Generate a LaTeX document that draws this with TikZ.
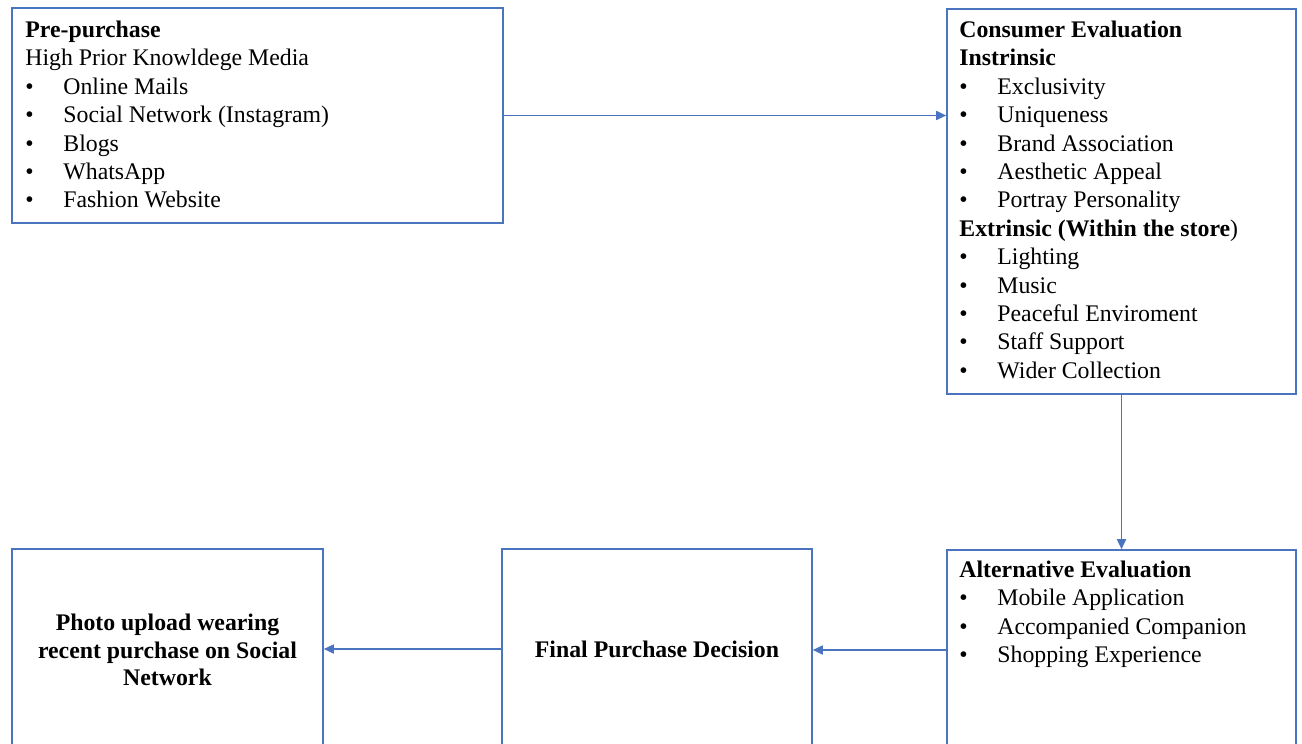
\documentclass[tikz,border=0pt]{standalone}
\usepackage{fontspec}
\setmainfont{Liberation Serif}
\usetikzlibrary{arrows.meta}
\definecolor{boxblue}{HTML}{4A74BF}
% bullet list entry: bullet, then the item text at a fixed indent
\newcommand{\bitem}[1]{\makebox[19pt][l]{\textbullet}#1}
% strut that fixes the height of a block's first line
\newcommand{\firststrut}{\rule{0pt}{10pt}}
\begin{document}
\begin{tikzpicture}[x=0.5pt, y=-0.5pt,
  box/.style={draw=boxblue, line width=0.8pt, fill=none, inner sep=0pt},
  txt/.style={anchor=north west, inner sep=0pt, align=left,
    font=\fontsize{11.9pt}{14.2pt}\selectfont},
  ctxt/.style={inner sep=0pt, align=center,
    font=\fontsize{11.9pt}{13.6pt}\selectfont\bfseries},
  flow/.style={draw=boxblue, line width=0.85pt,
    -{Triangle[length=5pt, width=4.5pt]}}]
\useasboundingbox (0,0) rectangle (1302,744);
\fill[white] (0,0) rectangle (1302,744);
\clip (0,0) rectangle (1302,744);

% stage boxes (the bottom row runs past the lower edge)
\node[box, minimum width=245.5pt, minimum height=107.5pt] (pre)   at (257.5,115.5) {};
\node[box, minimum width=174.5pt, minimum height=192.5pt] (cons)  at (1121.5,201.5) {};
\node[box, minimum width=174.5pt, minimum height=100pt]   (alt)   at (1121.5,650) {};
\node[box, minimum width=155pt,   minimum height=100pt]   (final) at (657,649) {};
\node[box, minimum width=155.5pt, minimum height=100pt]   (photo) at (167.5,649) {};

% box contents
\node[txt] (pretext) at (25,17) {\firststrut\textbf{Pre-purchase}\\
  High Prior Knowldege Media\\
  \bitem{Online Mails}\\
  \bitem{Social Network (Instagram)}\\
  \bitem{Blogs}\\
  \bitem{WhatsApp}\\
  \bitem{Fashion Website}};

\node[txt] (constext) at (959,17) {\firststrut\textbf{Consumer Evaluation}\\
  \textbf{Instrinsic}\\
  \bitem{Exclusivity}\\
  \bitem{Uniqueness}\\
  \bitem{Brand Association}\\
  \bitem{Aesthetic Appeal}\\
  \bitem{Portray Personality}\\
  \textbf{Extrinsic (Within the store})\\
  \bitem{Lighting}\\
  \bitem{Music}\\
  \bitem{Peaceful Enviroment}\\
  \bitem{Staff Support}\\
  \bitem{Wider Collection}};

\node[txt] (alttext) at (959,557) {\firststrut\textbf{Alternative Evaluation}\\
  \bitem{Mobile Application}\\
  \bitem{Accompanied Companion}\\
  \bitem{Shopping Experience}};

\node[ctxt] (finaltext) at (657,649) {Final Purchase Decision};
\node[ctxt] (phototext) at (167.5,650) {Photo upload wearing\\recent purchase on Social\\Network};

% flow between stages
\draw[flow] (pre.east) -- (pre.east -| cons.west);
\draw[flow] (cons.south) -- (alt.north);
\draw[flow] (alt.west) -- (alt.west -| final.east);
\draw[flow] (final.west) -- (final.west -| photo.east);
\end{tikzpicture}
\end{document}
